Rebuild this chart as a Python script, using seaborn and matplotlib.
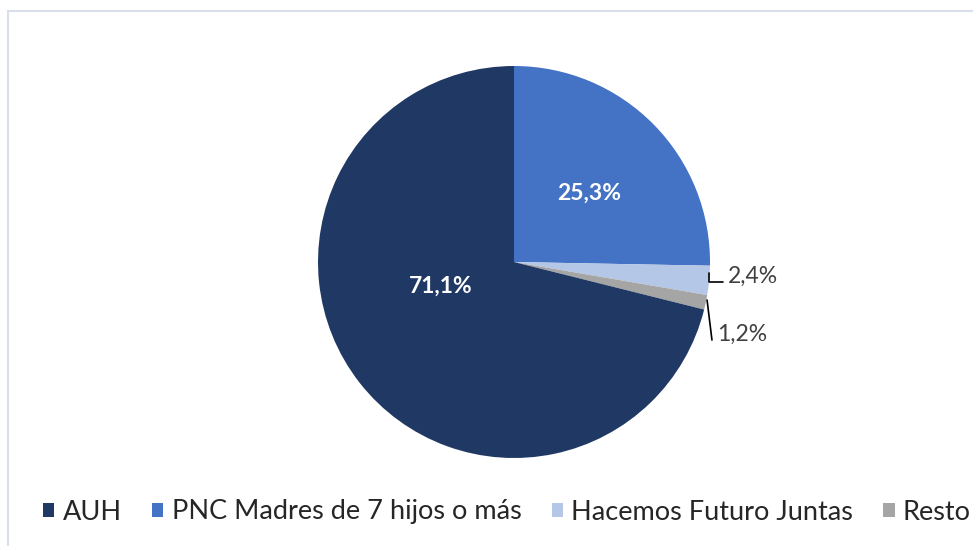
import matplotlib
matplotlib.use("Agg")
import matplotlib.pyplot as plt
import seaborn as sns
from matplotlib.patches import Rectangle, Patch

# ---- data ----
categories = ["PNC Madres de 7 hijos o más", "Hacemos Futuro Juntas", "Resto", "AUH"]
values = [25.3, 2.4, 1.2, 71.1]
colors = ["#4472C4", "#B4C7E7", "#A5A5A5", "#203864"]
legend_order = ["AUH", "PNC Madres de 7 hijos o más", "Hacemos Futuro Juntas", "Resto"]

sns.set_theme(style="white")
plt.rcParams['font.family'] = ['Lato', 'DejaVu Sans']

W, H = 973, 546
fig = plt.figure(figsize=(W / 100, H / 100), dpi=100)
fig.patch.set_facecolor("white")

# light border of chart area
fig.add_artist(Rectangle((8 / W, -0.1), 1.2, 1 - 11 / H + 0.1, transform=fig.transFigure,
                         fill=False, edgecolor="#D9DEEB", linewidth=1.5))

cx, cy, r = 514, 262, 196
ax = fig.add_axes([(cx - r) / W, (H - cy - r) / H, 2 * r / W, 2 * r / H])
wedges, _ = ax.pie(values, colors=colors, startangle=90, counterclock=False,
                   radius=1, wedgeprops=dict(linewidth=0))
ax.set_xlim(-1, 1)
ax.set_ylim(-1, 1)
ax.set_aspect("equal")
ax.axis("off")

def fmt(v):
    return f"{v:.1f}%".replace(".", ",")

# inner labels
ax.text(0.383, 0.352, fmt(values[0]), color="white", fontsize=16.5, fontweight="bold",
        ha="center", va="center")
ax.text(-0.372, -0.122, fmt(values[3]), color="white", fontsize=16.5, fontweight="bold",
        ha="center", va="center")

# outer labels with leader lines
ax.text(1.092, -0.071, fmt(values[1]), color="#404040", fontsize=16.5, ha="left", va="center")
ax.plot([0.995, 0.995, 1.066], [-0.056, -0.102, -0.102], color="black", lw=1.2, clip_on=False)
ax.text(1.036, -0.367, fmt(values[2]), color="#404040", fontsize=16.5, ha="left", va="center")
ax.plot([0.985, 1.010], [-0.194, -0.398], color="black", lw=1.2, clip_on=False)

handles = [Patch(facecolor=colors[categories.index(c)], edgecolor="none") for c in legend_order]
fig.legend(handles, legend_order, loc="center", bbox_to_anchor=(0.521, 1 - 512 / H), ncol=4,
           frameon=False, fontsize=19.5, handlelength=0.42, handleheight=0.42,
           handletextpad=0.3, columnspacing=1.12, labelcolor="#262626", borderaxespad=0)

fig.savefig("out.png", dpi=100, facecolor="white")
